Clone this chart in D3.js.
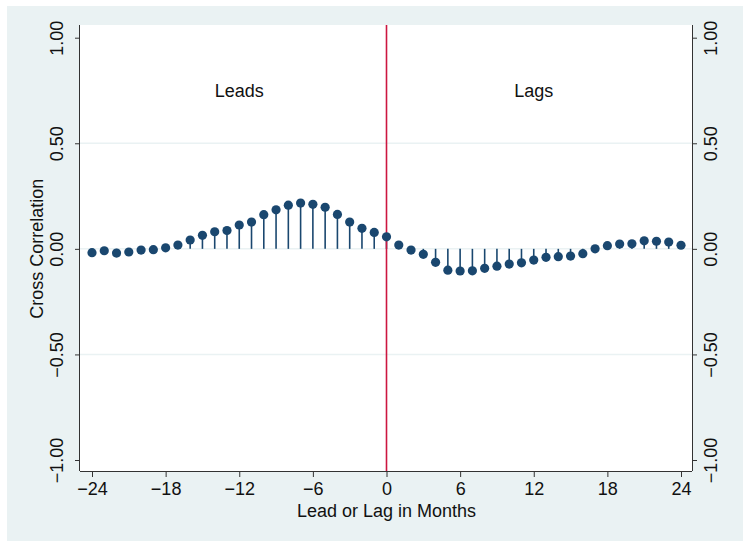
<!DOCTYPE html>
<html>
<head>
<meta charset="utf-8">
<script src="https://cdn.jsdelivr.net/npm/d3@7"></script>
<style>
  body { margin: 0; background: #fff; }
  svg { display: block; font-family: "Liberation Sans", Arial, sans-serif; }
</style>
</head>
<body>
<div class="chart"></div>
<script>
// lags in months and their cross correlations
const lags = d3.range(-24, 25);
const ccf = [
  -0.018, -0.009, -0.020, -0.015, -0.006, -0.004, 0.005, 0.018, 0.042, 0.064,
  0.081, 0.087, 0.113, 0.127, 0.162, 0.185, 0.207, 0.217, 0.211, 0.197,
  0.163, 0.127, 0.097, 0.078, 0.057,
  0.018, -0.006, -0.026, -0.064, -0.101, -0.105, -0.104, -0.092, -0.082, -0.072,
  -0.066, -0.053, -0.040, -0.037, -0.034, -0.023, 0.000, 0.015, 0.023, 0.024,
  0.038, 0.036, 0.032, 0.017
];
const xTicks = [-24, -18, -12, -6, 0, 6, 12, 18, 24];
const yTicks = [-1, -0.5, 0, 0.5, 1];
const gridTicks = [-0.5, 0, 0.5];
const notes = [{ x: -12, y: 0.75, text: "Leads" }, { x: 12, y: 0.75, text: "Lags" }];

const width = 743;
const height = 541;
const plot = { left: 80, right: 692, top: 25, bottom: 471 };
const navy = "#1a476f";
const red = "#cc1640";
const minus = s => s.replace("-", "\u2212");

const x = d3.scaleLinear().domain([-24, 24]).range([92, 681]);
const y = d3.scaleLinear().domain([-1, 1]).range([460, 37.7]);

const svg = d3.select(".chart").append("svg")
  .attr("width", width)
  .attr("height", height);

svg.append("rect")
  .attr("x", 7).attr("y", 6)
  .attr("width", width - 7).attr("height", height - 6)
  .attr("fill", "#eaf2f3");

svg.append("rect")
  .attr("x", plot.left).attr("y", plot.top)
  .attr("width", plot.right - plot.left).attr("height", plot.bottom - plot.top)
  .attr("fill", "#fff");

// grid lines
svg.selectAll(".grid")
  .data(gridTicks)
  .enter()
  .append("line")
  .attr("class", "grid")
  .attr("x1", plot.left).attr("x2", plot.right)
  .attr("y1", d => y(d)).attr("y2", d => y(d))
  .attr("stroke", "#eaf2f3")
  .attr("stroke-width", 1.5);

// spikes
svg.selectAll(".spike")
  .data(lags)
  .enter()
  .append("line")
  .attr("class", "spike")
  .attr("x1", d => x(d)).attr("x2", d => x(d))
  .attr("y1", y(0)).attr("y2", (d, i) => y(ccf[i]))
  .attr("stroke", navy)
  .attr("stroke-width", 1.6);

// vertical line at zero lag
svg.append("line")
  .attr("x1", x(0)).attr("x2", x(0))
  .attr("y1", plot.top).attr("y2", plot.bottom)
  .attr("stroke", red)
  .attr("stroke-width", 1.6);

svg.selectAll(".dot")
  .data(lags)
  .enter()
  .append("circle")
  .attr("class", "dot")
  .attr("cx", d => x(d))
  .attr("cy", (d, i) => y(ccf[i]))
  .attr("r", 4.6)
  .attr("fill", navy);

svg.selectAll(".note")
  .data(notes)
  .enter()
  .append("text")
  .attr("class", "note")
  .attr("x", d => x(d.x))
  .attr("y", d => y(d.y) + 6.5)
  .attr("text-anchor", "middle")
  .attr("font-size", 18)
  .attr("fill", "#111")
  .text(d => d.text);

// axes
const axisColor = "#333";
const fmt = d => minus(d3.format(".2f")(d));

const xAxis = svg.append("g")
  .attr("transform", "translate(0," + plot.bottom + ")")
  .call(d3.axisBottom(x).tickValues(xTicks).tickSize(6).tickPadding(5)
    .tickFormat(d => minus(String(d))));
xAxis.select(".domain").attr("d", "M" + plot.left + ",0.5H" + plot.right);

const yLeft = svg.append("g")
  .attr("transform", "translate(" + plot.left + ",0)")
  .call(d3.axisLeft(y).tickValues(yTicks).tickSize(5).tickFormat(fmt));
yLeft.select(".domain").attr("d", "M-0.5," + plot.top + "V" + plot.bottom);
yLeft.selectAll(".tick text")
  .attr("transform", "rotate(-90)")
  .attr("x", 0).attr("y", -17.5)
  .attr("dy", 0)
  .attr("text-anchor", "middle");

const yRight = svg.append("g")
  .attr("transform", "translate(" + plot.right + ",0)")
  .call(d3.axisRight(y).tickValues(yTicks).tickSize(5).tickFormat(fmt));
yRight.select(".domain").attr("d", "M0.5," + plot.top + "V" + plot.bottom);
yRight.selectAll(".tick text")
  .attr("transform", "rotate(-90)")
  .attr("x", 0).attr("y", 24.5)
  .attr("dy", 0)
  .attr("text-anchor", "middle");

svg.selectAll(".domain, .tick line").attr("stroke", axisColor);
svg.selectAll(".tick text")
  .attr("font-size", 18)
  .attr("font-family", "Liberation Sans, Arial, sans-serif")
  .attr("fill", "#111");

svg.append("text")
  .attr("x", x(0))
  .attr("y", 516.5)
  .attr("text-anchor", "middle")
  .attr("font-size", 18)
  .attr("fill", "#111")
  .text("Lead or Lag in Months");

svg.append("text")
  .attr("transform", "rotate(-90)")
  .attr("x", -y(0))
  .attr("y", 43)
  .attr("text-anchor", "middle")
  .attr("font-size", 18)
  .attr("fill", "#111")
  .text("Cross Correlation");
</script>
</body>
</html>
